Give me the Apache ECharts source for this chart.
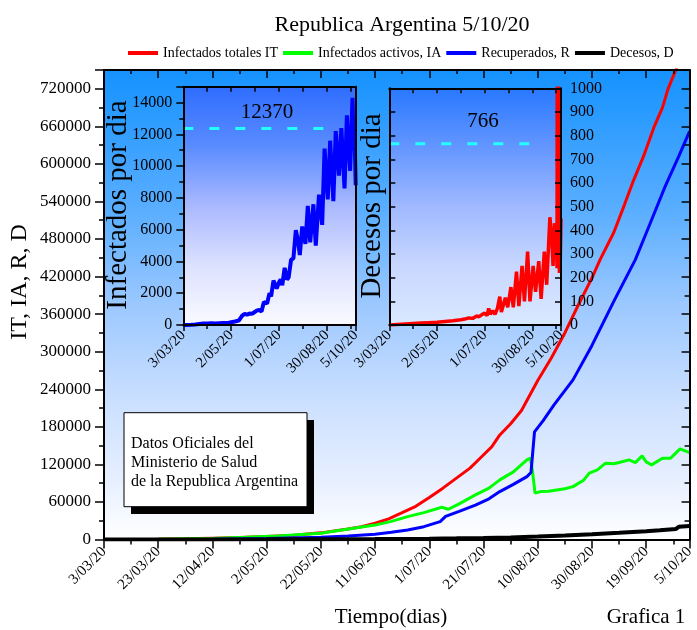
<!DOCTYPE html>
<html><head><meta charset="utf-8">
<script src="https://cdn.jsdelivr.net/npm/echarts@6/dist/echarts.min.js"></script>
<style>html,body{margin:0;padding:0;background:#fff}#c{width:697px;height:630px}</style>
</head><body><div id="c"></div>
<script>
const FONT = '"Liberation Serif","Times New Roman",serif';

// ---- Tick labels ----
const mainTickDays = [0,20,40,60,80,100,120,140,160,180,200,216];
const mainTickLabels = ['3/03/20','23/03/20','12/04/20','2/05/20','22/05/20','11/06/20','1/07/20','21/07/20','10/08/20','30/08/20','19/09/20','5/10/20'];
const insetTickDays = [0,60,120,180,216];
const insetTickLabels = ['3/03/20','2/05/20','1/07/20','30/08/20','5/10/20'];

// ---- Main series: [day since 3/03/20, value] ----
const infectadosTotales = [[0,1],[20,300],[30,1100],[40,2100],[50,3000],[60,4700],[70,6900],[80,10600],[90,16800],[95,20500],[100,26000],[105,33000],[110,42800],[115,53000],[120,67000],[125,82000],[130,98000],[135,114000],[139,131000],[143,148000],[146,167000],[150,185000],[154,206000],[157,230000],[160,254000],[165,290000],[170,330000],[175,375000],[180,418000],[183,447000],[188,490000],[192,535000],[195,570000],[199,612000],[203,660000],[206,690000],[208,719000],[211,751000],[216,810000]];
const infectadosActivos = [[0,0],[20,250],[40,1700],[52,3500],[64,5600],[80,9900],[92,17900],[100,23000],[106,29000],[112,36500],[118,43000],[124.6,51500],[127,48300],[131,57000],[137,71200],[142,82000],[146,95200],[151,108000],[156,127200],[157.3,129900],[158,111000],[159,74000],[161,76500],[164,77000],[167,79200],[170,81000],[173,84500],[177,95200],[179,106000],[182,111200],[185,121900],[188,121000],[190,122900],[193.7,127200],[196,122900],[198.5,133600],[200,124000],[202,119200],[206,129900],[209,129900],[212.5,144800],[216,138900]];
const recuperados = [[0,0],[40,500],[60,1500],[80,3500],[90,5500],[100,8500],[106,11500],[112,15200],[118,20500],[124,28500],[126,37000],[131,45000],[137,55000],[142,65000],[146,76500],[151,88000],[156,100500],[157.5,107000],[158.8,172000],[162,190000],[166,215000],[173,255000],[180,310000],[188,380000],[196,447000],[201,500000],[207,564000],[212,612000],[216,652000]];
const decesos = [[0,0],[40,90],[60,240],[80,430],[100,735],[120,1350],[130,1850],[140,2370],[150,3280],[160,4760],[170,6520],[180,8460],[190,10660],[200,13050],[205,14770],[211,16940],[212,20290],[216,21470]];

// ---- Inset series ----
const infectadosPorDia = [[0,0],[5,5],[10,10],[15,30],[20,60],[25,90],[30,100],[35,110],[40,90],[45,110],[50,130],[55,120],[60,170],[63,200],[67,250],[70,300],[74,600],[77,700],[80,650],[83,720],[86,700],[89,800],[92,900],[95,950],[98,850],[101,1450],[105,1350],[108,2000],[110,1800],[113,2800],[117,2300],[120,2700],[122,2870],[124,2500],[127,3600],[130,2850],[132,3000],[135,4100],[138,4200],[141,5970],[144,5200],[146,4400],[149,6200],[153,5100],[156,7500],[159,5200],[163,7600],[166,5000],[170,8200],[174,6300],[177,11100],[181,7900],[184,11600],[188,7800],[191,12200],[195,9400],[198,12400],[202,8600],[205,13200],[209,9700],[212,14300],[213,12300],[214,11200],[215,11000],[216,8800]];
const decesosPorDia = [[0,0],[10,2],[20,4],[30,6],[40,8],[50,10],[60,12],[70,15],[80,18],[90,22],[95,25],[100,30],[105,28],[110,38],[113,35],[117,45],[120,50],[123,40],[125,70],[127,45],[130,60],[133,45],[136,70],[139,120],[141,55],[143,60],[146,115],[149,75],[153,160],[156,75],[160,225],[163,80],[167,250],[170,100],[174,310],[177,100],[181,250],[184,140],[188,270],[191,110],[195,310],[198,170],[202,455],[204,390],[206,250],[208,430],[210,400],[211,240],[212,3351],[213,420],[214,220],[215,250],[216,450]];
const refInfectados = 12370;
const refDecesos = 766;
const refEndDay = 194;

const mainYLabelMax = 720000;

const lab = (days, labels) => v => { const i = days.indexOf(v); return i >= 0 ? labels[i] : ''; };
const black = '#000';
const axLine = {show:true, onZero:false, lineStyle:{color:black, width:2}};
const tickStyle = {color:black, width:1.5};
const lblStyle = (size, extra) => Object.assign({color:black, fontFamily:FONT, fontSize:size}, extra||{});

const grad = stops => ({type:'linear', x:0, y:0, x2:0, y2:1, colorStops:stops.map(s=>({offset:s[0], color:s[1]}))});

const chart = echarts.init(document.getElementById('c'), null, {renderer:'canvas'});
const option = {
  animation:false,
  backgroundColor:'#fff',
  title:{text:'Republica Argentina 5/10/20', left:397, top:9, textAlign:'center',
    textStyle:{fontFamily:FONT, fontSize:22, fontWeight:'normal', color:black}},
  legend:{data:['Infectados totales IT','Infectados activos, IA','Recuperados, R','Decesos, D'],
    left:123, top:41, width:620, icon:'rect', itemWidth:30, itemHeight:4, itemGap:5,
    textStyle:{fontFamily:FONT, fontSize:14, color:black}},
  grid:[
    {left:104, top:70, width:593, height:469.5, show:true, borderWidth:0, z:0,
      backgroundColor:grad([[0,'#1592ff'],[0.3,'#5aaeff'],[0.5,'#9cc8ff'],[0.7,'#cadfff'],[0.88,'#e8f0ff'],[1,'#ffffff']])},
    {left:183.3, top:86.7, width:172.4, height:238.3, show:true, borderWidth:0, z:1,
      backgroundColor:grad([[0,'#2f6dff'],[0.25,'#5a8cff'],[0.5,'#aab9ff'],[0.75,'#dce1ff'],[1,'#fafaff']])},
    {left:389.3, top:88.3, width:171.7, height:236.7, show:true, borderWidth:0, z:1,
      backgroundColor:grad([[0,'#2878ff'],[0.25,'#6496ff'],[0.5,'#a0b9ff'],[0.75,'#c8d7ff'],[1,'#d9e9ff']])}
  ],
  xAxis:[
    {type:'value', gridIndex:0, min:0, max:216, interval:20, position:'bottom', z:5,
      axisLine:axLine, splitLine:{show:false},
      axisTick:{show:true, length:9, lineStyle:tickStyle},
      minorTick:{show:true, splitNumber:2, length:5, lineStyle:tickStyle},
      axisLabel:lblStyle(15, {rotate:45, margin:10, showMaxLabel:true, formatter:lab(mainTickDays, mainTickLabels)})},
    {type:'value', gridIndex:0, min:0, max:216, interval:20, position:'top', z:5,
      axisLine:axLine, splitLine:{show:false},
      axisTick:{show:true, inside:true, length:8, lineStyle:tickStyle},
      minorTick:{show:true, splitNumber:2, length:4, lineStyle:tickStyle},
      axisLabel:{show:false}},
    {type:'value', gridIndex:1, min:0, max:216, interval:60, position:'bottom', z:5,
      axisLine:axLine, splitLine:{show:false},
      axisTick:{show:true, length:6, lineStyle:tickStyle},
      minorTick:{show:true, splitNumber:2, length:4, lineStyle:tickStyle},
      axisLabel:lblStyle(15, {rotate:45, margin:8, showMaxLabel:true, formatter:lab(insetTickDays, insetTickLabels)})},
    {type:'value', gridIndex:1, min:0, max:216, interval:60, position:'top', z:5,
      axisLine:axLine, splitLine:{show:false},
      axisTick:{show:true, inside:true, length:5, lineStyle:tickStyle},
      minorTick:{show:true, splitNumber:2, length:5, lineStyle:tickStyle},
      axisLabel:{show:false}},
    {type:'value', gridIndex:2, min:0, max:216, interval:60, position:'bottom', z:5,
      axisLine:axLine, splitLine:{show:false},
      axisTick:{show:true, length:6, lineStyle:tickStyle},
      minorTick:{show:true, splitNumber:2, length:4, lineStyle:tickStyle},
      axisLabel:lblStyle(15, {rotate:45, margin:8, showMaxLabel:true, formatter:lab(insetTickDays, insetTickLabels)})},
    {type:'value', gridIndex:2, min:0, max:216, interval:60, position:'top', z:5,
      axisLine:axLine, splitLine:{show:false},
      axisTick:{show:true, inside:true, length:5, lineStyle:tickStyle},
      minorTick:{show:true, splitNumber:2, length:5, lineStyle:tickStyle},
      axisLabel:{show:false}}
  ],
  yAxis:[
    {type:'value', gridIndex:0, min:0, max:750000, interval:60000, position:'left', z:5,
      axisLine:axLine, splitLine:{show:false},
      axisTick:{show:true, length:9, lineStyle:tickStyle},
      minorTick:{show:true, splitNumber:2, length:5, lineStyle:tickStyle},
      axisLabel:lblStyle(17, {margin:13, formatter:v => v <= mainYLabelMax ? String(v) : ''})},
    {type:'value', gridIndex:0, min:0, max:750000, interval:60000, position:'right', z:5,
      axisLine:axLine, splitLine:{show:false},
      axisTick:{show:true, inside:true, length:8, lineStyle:tickStyle},
      minorTick:{show:true, splitNumber:2, length:5, lineStyle:tickStyle},
      axisLabel:{show:false}},
    {type:'value', gridIndex:1, min:0, max:15000, interval:2000, position:'left', z:5,
      axisLine:axLine, splitLine:{show:false},
      axisTick:{show:true, length:7, lineStyle:tickStyle},
      minorTick:{show:true, splitNumber:2, length:4, lineStyle:tickStyle},
      axisLabel:lblStyle(16, {margin:11, formatter:v => v <= 14000 ? String(v) : ''})},
    {type:'value', gridIndex:1, min:0, max:15000, interval:2000, position:'right', z:5,
      axisLine:axLine, splitLine:{show:false}, axisTick:{show:false}, axisLabel:{show:false}},
    {type:'value', gridIndex:2, min:0, max:1000, interval:100, position:'right', z:5,
      axisLine:axLine, splitLine:{show:false},
      axisTick:{show:true, inside:true, length:6, lineStyle:tickStyle},
      axisLabel:lblStyle(16, {margin:9, formatter:v => String(v)})},
    {type:'value', gridIndex:2, min:0, max:1000, interval:100, position:'left', z:5,
      axisLine:axLine, splitLine:{show:false},
      axisTick:{show:true, inside:true, length:6, lineStyle:tickStyle},
      axisLabel:{show:false}}
  ],
  series:[
    {name:'Infectados totales IT', type:'line', xAxisIndex:0, yAxisIndex:0, data:infectadosTotales, symbol:'none', z:3, color:'#ff0000', lineStyle:{width:3, color:'#ff0000'}},
    {name:'Infectados activos, IA', type:'line', xAxisIndex:0, yAxisIndex:0, data:infectadosActivos, symbol:'none', z:3, color:'#00ff00', lineStyle:{width:3, color:'#00ff00'}},
    {name:'Recuperados, R', type:'line', xAxisIndex:0, yAxisIndex:0, data:recuperados, symbol:'none', z:3, color:'#0000ff', lineStyle:{width:3, color:'#0000ff'}},
    {name:'Decesos, D', type:'line', xAxisIndex:0, yAxisIndex:0, data:decesos, symbol:'none', z:3, color:'#000000', lineStyle:{width:4, color:'#000000'}},
    {name:'ref1', type:'line', xAxisIndex:2, yAxisIndex:2, data:[[0,refInfectados],[refEndDay,refInfectados]], symbol:'none', z:4, lineStyle:{width:3, color:'#22ffff', type:[10,16]}},
    {name:'Infectados por dia', type:'line', xAxisIndex:2, yAxisIndex:2, data:infectadosPorDia, symbol:'none', z:4, lineStyle:{width:4, color:'#0000ff'}},
    {name:'ref2', type:'line', xAxisIndex:4, yAxisIndex:4, data:[[0,refDecesos],[refEndDay,refDecesos]], symbol:'none', z:4, lineStyle:{width:3, color:'#22ffff', type:[10,16]}},
    {name:'Decesos por dia', type:'line', xAxisIndex:4, yAxisIndex:4, data:decesosPorDia, symbol:'none', z:4, lineStyle:{width:3.5, color:'#ff0000'}}
  ],
  graphic:[
    {type:'text', x:20, y:282, rotation:Math.PI/2, z:10, style:{text:'IT, IA, R, D', fontFamily:FONT, fontSize:24, fill:black, align:'center', verticalAlign:'middle'}},
    {type:'text', x:118, y:205, rotation:Math.PI/2, z:10, style:{text:'Infectados por dia', fontFamily:FONT, fontSize:29, fill:black, align:'center', verticalAlign:'middle'}},
    {type:'text', x:372, y:206, rotation:Math.PI/2, z:10, style:{text:'Decesos por dia', fontFamily:FONT, fontSize:29, fill:black, align:'center', verticalAlign:'middle'}},
    {type:'text', x:267, y:112, z:10, style:{text:String(refInfectados), fontFamily:FONT, fontSize:21, fill:black, align:'center', verticalAlign:'middle'}},
    {type:'text', x:483, y:121, z:10, style:{text:String(refDecesos), fontFamily:FONT, fontSize:21, fill:black, align:'center', verticalAlign:'middle'}},
    {type:'rect', z:10, shape:{x:131, y:420, width:183, height:94}, style:{fill:'#000'}},
    {type:'rect', z:11, shape:{x:124, y:412.7, width:183, height:94}, style:{fill:'#fff', stroke:'#000', lineWidth:1}},
    {type:'text', x:131, y:444, z:12, style:{text:'Datos Oficiales del', fontFamily:FONT, fontSize:16, fill:black, align:'left', verticalAlign:'middle'}},
    {type:'text', x:131, y:463, z:12, style:{text:'Ministerio de Salud', fontFamily:FONT, fontSize:16, fill:black, align:'left', verticalAlign:'middle'}},
    {type:'text', x:131, y:482, z:12, style:{text:'de la Republica Argentina', fontFamily:FONT, fontSize:16, fill:black, align:'left', verticalAlign:'middle'}},
    {type:'text', x:391, y:617, z:10, style:{text:'Tiempo(dias)', fontFamily:FONT, fontSize:21, fill:black, align:'center', verticalAlign:'middle'}},
    {type:'text', x:646, y:617, z:10, style:{text:'Grafica 1', fontFamily:FONT, fontSize:21, fill:black, align:'center', verticalAlign:'middle'}}
  ]
};
chart.setOption(option);
</script>
</body></html>
